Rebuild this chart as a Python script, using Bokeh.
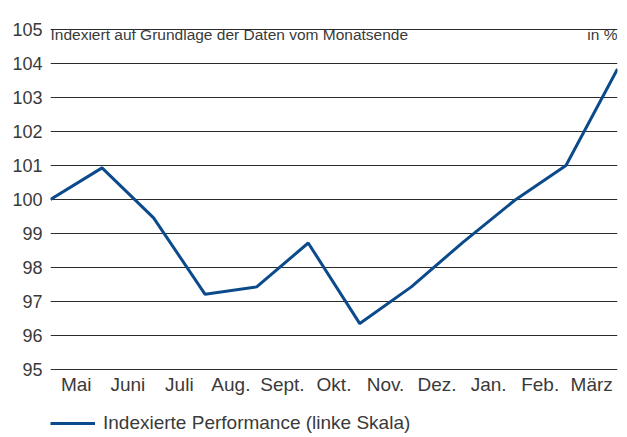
from bokeh.plotting import figure
from bokeh.layouts import column
from bokeh.models import Range1d, FixedTicker, Legend, LegendItem
from bokeh.core.properties import value
from bokeh.embed import file_html
from bokeh.resources import INLINE

# Data (index values at month ends, start = 100)
x_points = [0, 1, 2, 3, 4, 5, 6, 7, 8, 9, 10, 11]
index_values = [100.0, 100.93, 99.46, 97.21, 97.43, 98.72, 96.35, 97.43, 98.74, 99.97, 101.0, 103.84]
months = ["Mai", "Juni", "Juli", "Aug.", "Sept.", "Okt.", "Nov.", "Dez.", "Jan.", "Feb.", "März"]
month_pos = [0.5, 1.5, 2.5, 3.5, 4.5, 5.5, 6.5, 7.5, 8.5, 9.5, 10.5]
y_ticks = [95, 96, 97, 98, 99, 100, 101, 102, 103, 104, 105]
title_left = "Indexiert auf Grundlage der Daten vom Monatsende"
title_right = "in %"
legend_label = "Indexierte Performance (linke Skala)"

FONT = "Liberation Sans"
TXT = "#3a3a3a"
BLUE = "#0b4a8b"
W = 627

# main chart: frame reaches the top edge, the range above 105 holds the header texts
p = figure(width=W, height=400, output_backend="svg", toolbar_location=None,
           x_range=Range1d(0, 11), y_range=Range1d(94.97, 105.853),
           min_border_left=50, min_border_right=10, min_border_top=0, min_border_bottom=30)
p.outline_line_color = None
p.background_fill_color = "white"
p.border_fill_color = "white"

p.yaxis.ticker = FixedTicker(ticks=y_ticks)
p.yaxis.axis_line_color = None
p.yaxis.major_tick_line_color = None
p.yaxis.minor_tick_line_color = None
p.yaxis.major_label_standoff = 2
p.yaxis.major_label_text_font = FONT
p.yaxis.major_label_text_font_size = "18px"
p.yaxis.major_label_text_color = TXT

p.xaxis.ticker = FixedTicker(ticks=month_pos)
p.xaxis.major_label_overrides = {m: lbl for m, lbl in zip(month_pos, months)}
p.xaxis.axis_line_color = None
p.xaxis.major_tick_line_color = None
p.xaxis.minor_tick_line_color = None
p.xaxis.major_label_standoff = -3
p.xaxis.major_label_text_font = FONT
p.xaxis.major_label_text_font_size = "19px"
p.xaxis.major_label_text_color = TXT

p.xgrid.grid_line_color = None
p.ygrid.ticker = FixedTicker(ticks=y_ticks)
p.ygrid.grid_line_color = "#2b2b2b"
p.ygrid.grid_line_width = 1.2

p.line(x_points, index_values, line_color=BLUE, line_width=3)

p.text(x=[0], y=[105], y_offset=5, text=[title_left], text_font=value(FONT), text_font_size="15.5px",
       text_color=TXT, text_align="left", text_baseline="alphabetic")
p.text(x=[11], y=[105], y_offset=5, text=[title_right], text_font=value(FONT), text_font_size="15.5px",
       text_color=TXT, text_align="right", text_baseline="alphabetic")

# footer holding the legend (same series, drawn outside the footer's range)
f = figure(width=W, height=37, output_backend="svg", toolbar_location=None,
           x_range=Range1d(0, 11), y_range=Range1d(0, 1),
           x_axis_location=None, y_axis_location=None,
           min_border_left=50, min_border_right=10, min_border_top=0, min_border_bottom=0)
f.outline_line_color = None
f.background_fill_color = "white"
f.border_fill_color = "white"
f.xgrid.grid_line_color = None
f.ygrid.grid_line_color = None
lr = f.line(x_points, index_values, line_color=BLUE, line_width=3)
legend = Legend(items=[LegendItem(label=legend_label, renderers=[lr])],
                location=(0, 3), orientation="horizontal",
                label_text_font=FONT, label_text_font_size="19px", label_text_color=TXT,
                glyph_width=45, glyph_height=20, label_standoff=8,
                border_line_color=None, background_fill_alpha=0, padding=0, margin=0)
f.add_layout(legend, "center")

layout = column(p, f, spacing=0)
open("out.html", "w").write(file_html(layout, INLINE))
